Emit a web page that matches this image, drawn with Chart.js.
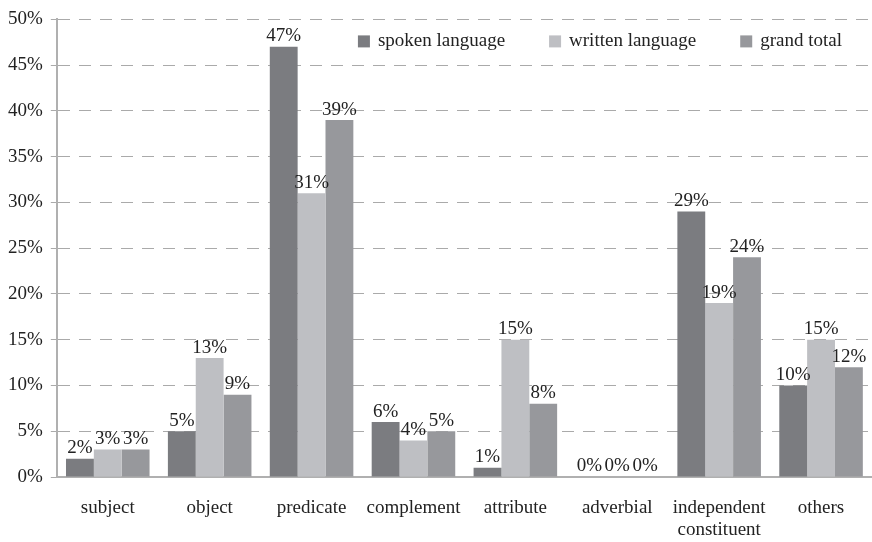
<!DOCTYPE html>
<html>
<head>
<meta charset="utf-8">
<script src="https://cdn.jsdelivr.net/npm/chart.js@4/dist/chart.umd.min.js"></script>
<style>
  html, body { margin: 0; padding: 0; background: #fff; }
  #wrap { width: 872px; height: 542px; }
</style>
</head>
<body>
<div id="wrap"><canvas id="grafica" width="872" height="542"></canvas></div>
<script>
// categorias y valores (%)
const categorias = ['subject', 'object', 'predicate', 'complement', 'attribute', 'adverbial', ['independent', 'constituent'], 'others'];
const hablado = [2, 5, 47, 6, 1, 0, 29, 10];
const escrito = [3, 13, 31, 4, 15, 0, 19, 15];
const total = [3, 9, 39, 5, 8, 0, 24, 12];
const nombresSeries = ['spoken language', 'written language', 'grand total'];
const ticksY = [0, 5, 10, 15, 20, 25, 30, 35, 40, 45, 50];

const fuente = '"Liberation Serif", "Times New Roman", serif';
const tamFuente = 19;

// etiquetas encima de cada barra
const etiquetasBarras = {
    id: 'etiquetasBarras',
    afterDatasetsDraw(chart) {
        const ctx = chart.ctx;
        ctx.save();
        ctx.font = tamFuente + 'px ' + fuente;
        ctx.fillStyle = '#222';
        ctx.textAlign = 'center';
        ctx.textBaseline = 'bottom';
        chart.data.datasets.forEach((ds, i) => {
            chart.getDatasetMeta(i).data.forEach((bar, j) => {
                ctx.fillText(ds.data[j] + '%', bar.x, bar.y - 1);
            });
        });
        ctx.restore();
    }
};

// leyenda dentro del area, arriba a la derecha
const leyenda = {
    id: 'leyenda',
    afterDraw(chart) {
        const ctx = chart.ctx;
        const area = chart.chartArea;
        ctx.save();
        ctx.font = tamFuente + 'px ' + fuente;
        ctx.textBaseline = 'middle';
        const caja = 12, sep = 8, hueco = 44;
        const items = chart.data.datasets.map(ds => ({ t: ds.label, c: ds.backgroundColor, w: caja + sep + ctx.measureText(ds.label).width }));
        let ancho = items.reduce((s, it) => s + it.w, 0) + hueco * (items.length - 1);
        let x = area.right - 30 - ancho;
        const y = area.top + 22;
        items.forEach(it => {
            ctx.fillStyle = it.c;
            ctx.fillRect(x, y - caja / 2, caja, caja);
            ctx.fillStyle = '#222';
            ctx.fillText(it.t, x + caja + sep, y);
            x += it.w + hueco;
        });
        ctx.restore();
    }
};

new Chart(document.querySelector('#grafica'), {
    type: 'bar',
    data: {
        labels: categorias,
        datasets: [
            { label: nombresSeries[0], data: hablado, backgroundColor: '#7b7c80' },
            { label: nombresSeries[1], data: escrito, backgroundColor: '#bebfc3' },
            { label: nombresSeries[2], data: total, backgroundColor: '#97989c' }
        ]
    },
    options: {
        responsive: false,
        animation: false,
        layout: { padding: { top: 7, right: 0, left: 0, bottom: 0 } },
        datasets: { bar: { categoryPercentage: 0.82, barPercentage: 1.0 } },
        plugins: {
            tooltip: { enabled: false },
            legend: { display: false }
        },
        scales: {
            x: {
                grid: { display: false, drawTicks: false },
                border: { color: '#b0b0b0', width: 2 },
                ticks: { color: '#222', padding: 20, font: { family: fuente, size: tamFuente, lineHeight: 1.15 } },
                afterFit: (escala) => { escala.height = 65; }
            },
            y: {
                min: 0,
                max: 50,
                afterBuildTicks: (axis) => { axis.ticks = ticksY.map(v => ({ value: v })); },
                grid: {
                    color: '#aaaaaa',
                    lineWidth: 1,
                    tickLength: 6,
                    tickColor: '#aaaaaa'
                },
                border: { color: '#b0b0b0', width: 2, dash: [12, 9] },
                ticks: {
                    color: '#222',
                    padding: 8,
                    font: { family: fuente, size: tamFuente },
                    callback: (v) => v + '%'
                }
            }
        }
    },
    plugins: [etiquetasBarras, leyenda]
});
</script>
</body>
</html>
